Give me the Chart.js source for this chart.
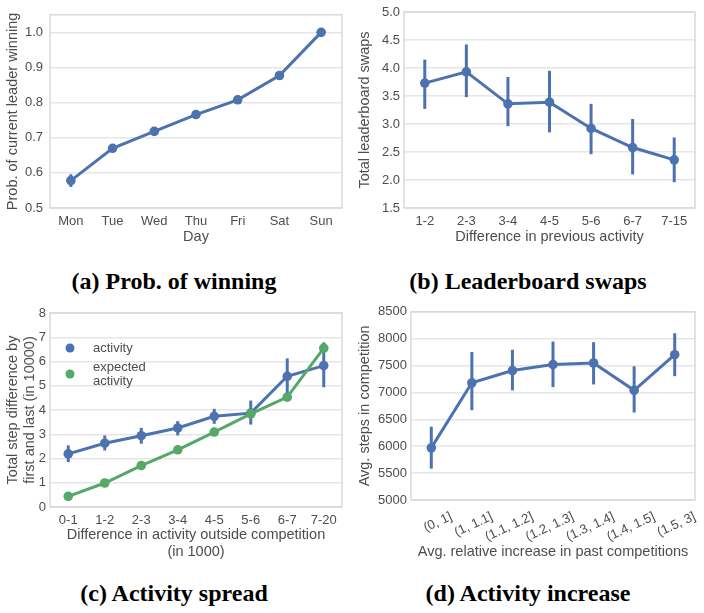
<!DOCTYPE html>
<html>
<head>
<meta charset="utf-8">
<script src="https://cdn.jsdelivr.net/npm/chart.js@4.4.1/dist/chart.umd.min.js"></script>
<style>
  body { margin: 0; background: #fff; }
  #fig { position: relative; width: 704px; height: 613px; }
  canvas { position: absolute; }
  .cap { position: absolute; width: 352px; text-align: center; line-height: 28px;
         font: bold 24px "Liberation Serif", "Times New Roman", serif; color: #000; }
</style>
</head>
<body>
<div id="fig">
  <canvas id="chartA" width="352" height="250" style="left:0;top:0"></canvas>
  <canvas id="chartB" width="352" height="250" style="left:352px;top:0"></canvas>
  <canvas id="chartC" width="352" height="265" style="left:0;top:300px"></canvas>
  <canvas id="chartD" width="352" height="265" style="left:352px;top:300px"></canvas>
  <div class="cap" style="left:-2px;top:268px">(a) Prob. of winning</div>
  <div class="cap" style="left:352px;top:268px">(b) Leaderboard swaps</div>
  <div class="cap" style="left:-2px;top:580px">(c) Activity spread</div>
  <div class="cap" style="left:352px;top:580px">(d) Activity increase</div>
</div>
<script>
// (a) prob. of current leader winning, by day
const days = ['Mon', 'Tue', 'Wed', 'Thu', 'Fri', 'Sat', 'Sun'];
const winProb   = [0.578, 0.670, 0.718, 0.766, 0.808, 0.877, 1.0];
const winProbLo = [0.560, 0.659, 0.706, 0.754, 0.797, 0.866, 0.997];
const winProbHi = [0.596, 0.680, 0.729, 0.777, 0.820, 0.887, 1.0];

// (b) leaderboard swaps
const prevBins = ['1-2', '2-3', '3-4', '4-5', '5-6', '6-7', '7-15'];
const swaps   = [3.73, 3.93, 3.36, 3.39, 2.92, 2.58, 2.36];
const swapsLo = [3.27, 3.48, 2.96, 2.85, 2.46, 2.10, 1.96];
const swapsHi = [4.15, 4.42, 3.84, 3.95, 3.36, 3.09, 2.76];

// (c) activity spread
const outsideBins = ['0-1', '1-2', '2-3', '3-4', '4-5', '5-6', '6-7', '7-20'];
const spread   = [2.19, 2.63, 2.94, 3.26, 3.74, 3.87, 5.39, 5.83];
const spreadLo = [1.85, 2.33, 2.61, 2.95, 3.43, 3.40, 4.64, 4.94];
const spreadHi = [2.54, 2.95, 3.26, 3.54, 4.05, 4.39, 6.13, 6.79];
const expectedSpread = [0.44, 0.99, 1.71, 2.36, 3.09, 3.84, 4.53, 6.55];
const seriesNames = ['activity', 'expected activity'];

// (d) activity increase
const incBins = ['(0, 1]', '(1, 1.1]', '(1.1, 1.2]', '(1.2, 1.3]', '(1.3, 1.4]', '(1.4, 1.5]', '(1.5, 3]'];
const avgSteps   = [5970, 7180, 7407, 7518, 7548, 7039, 7702];
const avgStepsLo = [5583, 6670, 7039, 7100, 7149, 6627, 7303];
const avgStepsHi = [6363, 7751, 7794, 7947, 7935, 7487, 8101];

const BLUE = '#4c72b0';
const GREEN = '#55a868';
const TXT = '#4d4d4d';
const FAMILY = '"Liberation Sans", Arial, sans-serif';
const TICK_FONT = { family: FAMILY, size: 13 };
const TITLE_FONT = { family: FAMILY, size: 14.5 };

// light frame around the plot area
const frame = {
    id: 'frame',
    beforeDatasetsDraw(chart) {
        const a = chart.chartArea, ctx = chart.ctx;
        ctx.save();
        ctx.strokeStyle = '#d9d9d9';
        ctx.lineWidth = 1.5;
        ctx.strokeRect(a.left, a.top, a.right - a.left, a.bottom - a.top);
        ctx.restore();
    }
};

// vertical confidence bars, drawn under each dataset's line
const errorBars = {
    id: 'errorBars',
    beforeDatasetDraw(chart, args) {
        const ds = chart.data.datasets[args.index];
        if (!ds.lo) return;
        const y = chart.scales.y, ctx = chart.ctx;
        ctx.save();
        ctx.strokeStyle = ds.borderColor;
        ctx.lineWidth = 3;
        args.meta.data.forEach((pt, i) => {
            ctx.beginPath();
            ctx.moveTo(pt.x, y.getPixelForValue(ds.lo[i]));
            ctx.lineTo(pt.x, y.getPixelForValue(ds.hi[i]));
            ctx.stroke();
        });
        ctx.restore();
    }
};

// legend inside panel (c)
const innerLegend = {
    id: 'innerLegend',
    afterDatasetsDraw(chart) {
        const a = chart.chartArea, ctx = chart.ctx;
        ctx.save();
        ctx.font = `13px ${FAMILY}`;
        ctx.textBaseline = 'middle';
        const rows = [a.top + 35, a.top + 61];
        chart.data.datasets.forEach((ds, i) => {
            const cy = rows[i];
            ctx.beginPath();
            ctx.fillStyle = ds.borderColor;
            ctx.arc(a.left + 20, cy, 4.5, 0, Math.PI * 2);
            ctx.fill();
            ctx.fillStyle = TXT;
            const words = ds.label.split(' ');
            words.forEach((w, k) => {
                ctx.fillText(w, a.left + 43, cy + (k - (words.length - 1) / 2) * 14);
            });
        });
        ctx.restore();
    }
};

function series(label, data, color, lo, hi, order) {
    return {
        label, data, lo, hi, order,
        borderColor: color,
        backgroundColor: color,
        borderWidth: 3,
        pointRadius: 4.8,
        pointBorderWidth: 0,
        tension: 0
    };
}

function makePanel(id, p) {
    return new Chart(document.getElementById(id), {
        type: 'line',
        data: { labels: p.labels, datasets: p.datasets },
        options: {
            responsive: false,
            animation: false,
            layout: { padding: p.padding },
            plugins: { legend: { display: false }, tooltip: { enabled: false } },
            scales: {
                x: {
                    offset: true,
                    grid: { display: false },
                    border: { display: false },
                    ticks: {
                        color: TXT, font: TICK_FONT, padding: p.xPad, autoSkip: false,
                        minRotation: p.rotation || 0, maxRotation: p.rotation || 0,
                        labelOffset: p.labelOffset || 0
                    },
                    title: { display: true, text: p.xTitle, color: TXT, font: TITLE_FONT, padding: { top: 0, bottom: 4 } },
                    afterFit: s => { s.height = p.xHeight; }
                },
                y: {
                    min: p.yMin, max: p.yMax,
                    grid: { color: '#e6e6e6', lineWidth: 1.5, drawTicks: false },
                    border: { display: false },
                    ticks: {
                        stepSize: p.yStep, includeBounds: false, color: TXT, font: TICK_FONT, padding: p.yPad,
                        callback: v => p.decimals ? v.toFixed(p.decimals) : String(v)
                    },
                    title: { display: true, text: p.yTitle, color: TXT, font: TITLE_FONT, padding: { top: 4, bottom: 0 } },
                    afterFit: s => { s.width = p.yWidth; }
                }
            }
        },
        plugins: [frame, errorBars].concat(p.extra || [])
    });
}

makePanel('chartA', {
    labels: days,
    datasets: [series('prob', winProb, BLUE, winProbLo, winProbHi, 1)],
    yMin: 0.5, yMax: 1.05, yStep: 0.1, decimals: 1,
    yTitle: 'Prob. of current leader winning', xTitle: 'Day',
    padding: { top: 12, right: 10, left: 0, bottom: 0 }, yWidth: 50, xHeight: 42,
    yPad: 7, xPad: -2
});

makePanel('chartB', {
    labels: prevBins,
    datasets: [series('swaps', swaps, BLUE, swapsLo, swapsHi, 1)],
    yMin: 1.5, yMax: 5.0, yStep: 0.5, decimals: 1,
    yTitle: 'Total leaderboard swaps', xTitle: 'Difference in previous activity',
    padding: { top: 12, right: 9, left: 0, bottom: 0 }, yWidth: 52, xHeight: 42,
    yPad: 4, xPad: -2
});

makePanel('chartC', {
    labels: outsideBins,
    datasets: [
        series(seriesNames[0], spread, BLUE, spreadLo, spreadHi, 2),
        series(seriesNames[1], expectedSpread, GREEN, null, null, 1)
    ],
    yMin: 0, yMax: 8, yStep: 1, decimals: 0,
    yTitle: ['Total step difference by', 'first and last (in 10000)'],
    xTitle: ['Difference in activity outside competition', '(in 1000)'],
    padding: { top: 13, right: 10, left: 0, bottom: 0 }, yWidth: 50, xHeight: 58,
    yPad: 4, xPad: -2,
    extra: [innerLegend]
});

makePanel('chartD', {
    labels: incBins,
    datasets: [series('steps', avgSteps, BLUE, avgStepsLo, avgStepsHi, 1)],
    yMin: 5000, yMax: 8500, yStep: 500, decimals: 0,
    yTitle: 'Avg. steps in competition', xTitle: 'Avg. relative increase in past competitions',
    padding: { top: 10, right: 9, left: 0, bottom: 0 }, yWidth: 59, xHeight: 65,
    yPad: 4, xPad: 1,
    rotation: 25, labelOffset: 20
});
</script>
</body>
</html>
